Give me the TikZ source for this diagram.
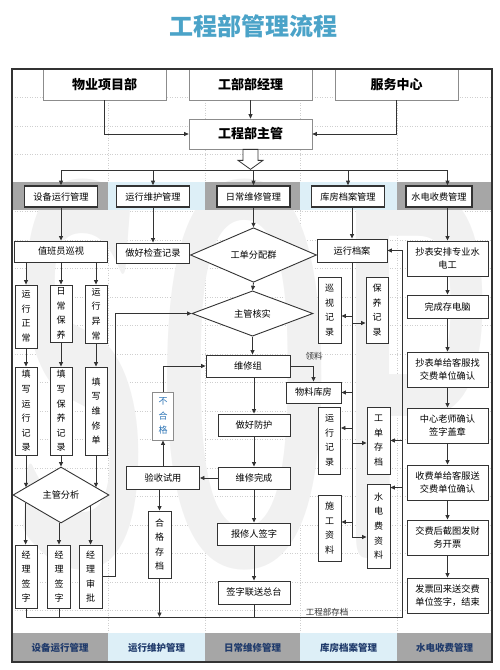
\documentclass[tikz,border=0pt]{standalone}
\usepackage{fontspec}
\setmainfont{Noto Sans CJK SC}
\usepackage{tikz}
\usetikzlibrary{calc,arrows.meta,shapes.geometric}
\definecolor{ink}{HTML}{333333}
\definecolor{rim}{HTML}{8C8C8C}
\definecolor{ttl}{HTML}{4BA3C8}
\definecolor{bandgray}{HTML}{A6A6A6}
\definecolor{bandblue}{HTML}{DDEFF7}
\definecolor{navy}{HTML}{1F3A6B}
\definecolor{gridc}{HTML}{CFCFCF}
\definecolor{wmk}{HTML}{F1F1F1}
\definecolor{failc}{HTML}{2E75B6}
\tikzset{
  wire/.style={draw=ink, line width=0.8pt},
  arr/.style={wire, -{Triangle[length=4.5pt,width=4pt]}},
  gridline/.style={draw=gridc, dotted, line width=0.5pt},
  box/.style={draw=ink, fill=white, line width=0.9pt, inner sep=0pt, align=center, font=\fontsize{9.2}{13}\selectfont},
  vbox/.style={box, minimum width=22pt, font=\fontsize{9}{14.6}\selectfont},
  hdbox/.style={draw=rim, fill=white, line width=0.7pt, inner sep=0pt, minimum width=123pt, font=\fontsize{13}{15}\selectfont\bfseries},
  unitbox/.style={box, line width=1.6pt, minimum width=73pt, minimum height=21pt},
  diabox/.style={diamond, draw=ink, fill=white, line width=0.9pt, inner sep=0pt, font=\fontsize{9.2}{13}\selectfont},
  hollow/.style={draw=ink, fill=white, line width=0.8pt, line join=miter},
  lanetext/.style={font=\fontsize{9.5}{12}\selectfont\bfseries, text=navy},
  smalltext/.style={font=\fontsize{8.5}{10}\selectfont, text=ink},
  wmark/.style={text=wmk, font=\sffamily\bfseries, xscale=23, yscale=53, inner sep=0pt},
}
\begin{document}
\begin{tikzpicture}[x=1pt,y=-1pt]
  \useasboundingbox (0,0) rectangle (500,670);
  % grid and watermark
  \foreach \y in {0,...,19}
    \draw[gridline] (12,97.5+28.5*\y) -- (492,97.5+28.5*\y);
  \foreach \x in {108,205,300,397}
    \draw[gridline] (\x,97.5) -- (\x,633);
  \node[wmark] (sop) at (255,375) {SOP};
  \foreach \xa/\xb/\c in {12/108/bandgray,108/205/bandblue,205/300/bandgray,300/397/bandblue,397/492/bandgray}{
    \fill[\c] (\xa,182) rectangle (\xb,210);
    \fill[\c] (\xa,633) rectangle (\xb,662);
  }
  \node[font=\fontsize{24}{28}\selectfont\bfseries, text=ttl] (tt) at (253,26) {工程部管理流程};

  % top
  \node[hdbox, minimum height=31pt] (xm) at (104.5,84.5) {物业项目部};
  \node[hdbox, minimum height=31pt] (jl) at (250.5,84.5) {工部部经理};
  \node[hdbox, minimum height=31pt] (fw) at (396.5,84.5) {服务中心};
  \node[hdbox, minimum height=30pt] (zg) at (250.5,134) {工程部主管};
  \draw[arr] (jl.south) -- (zg.north);
  \draw[arr] (xm.south) |- (zg.west);
  \draw[arr] (fw.south) |- (zg.east);
  \draw[hollow] ($(zg.south)+(-7.5,0)$) -- ++(0,11) -- ++(-5,0) -- ($(zg.south)+(0,20)$)
    -- ($(zg.south)+(12.5,11)$) -- ++(-5,0) -- ++(0,-11) -- cycle;

  % units
  \node[unitbox] (u1) at (61,196.5) {设备运行管理};
  \node[unitbox] (u2) at (153,196.5) {运行维护管理};
  \node[unitbox] (u3) at (253.5,196.5) {日常维修管理};
  \node[unitbox] (u4) at (348,196.5) {库房档案管理};
  \node[unitbox, minimum width=66pt] (u5) at (439,196.5) {水电收费管理};

  % left column
  \node[box, minimum width=93pt, minimum height=21pt] (zb) at (61,251.5) {值班员巡视};
  \node[vbox, minimum height=63pt] (yz) at (26,316.5) {运\\行\\正\\常};
  \node[vbox, minimum height=57pt] (rb) at (61,313.5) {日\\常\\保\\养};
  \node[vbox, minimum height=58pt] (yy) at (96,314) {运\\行\\异\\常};
  \node[vbox, minimum height=88pt] (tx1) at (26,411) {填\\写\\运\\行\\记\\录};
  \node[vbox, minimum height=88pt] (tx2) at (61,411) {填\\写\\保\\养\\记\\录};
  \node[vbox, minimum height=88pt] (tx3) at (96,411) {填\\写\\维\\修\\单};
  \node[diabox, minimum width=96pt, minimum height=56pt] (fx) at (61,495) {主管分析};
  \node[vbox, minimum height=63pt] (jq1) at (26,576.5) {经\\理\\签\\字};
  \node[vbox, minimum width=23pt, minimum height=63pt] (jq2) at (59,576.5) {经\\理\\签\\字};
  \node[vbox, minimum width=23pt, minimum height=63pt] (jp) at (90.5,576.5) {经\\理\\审\\批};

  % centre column
  \node[box, minimum width=73pt, minimum height=20pt] (jc) at (153,253) {做好检查记录};
  \node[diabox, minimum width=126pt, minimum height=46pt] (gd) at (253.5,255) {工单分配群};
  \node[diabox, minimum width=121pt, minimum height=43pt] (hs) at (252.5,313.5) {主管核实};
  \node[box, minimum width=84pt, minimum height=22pt] (wx) at (248,366) {维修组};
  \node[box, minimum width=72pt, minimum height=22pt] (fh) at (254,425) {做好防护};
  \node[box, minimum width=72pt, minimum height=22pt] (wc) at (254,478) {维修完成};
  \node[box, minimum width=73pt, minimum height=22pt] (bx) at (254,534) {报修人签字};
  \node[box, minimum width=72pt, minimum height=23pt] (qz) at (254,592.5) {签字联送总台};
  \node[box, minimum width=73pt, minimum height=23pt] (ys) at (163,478) {验收试用};
  \node[vbox, draw=rim, text=failc, minimum width=21pt, minimum height=48pt] (bh) at (163,416) {不\\合\\格};
  \node[vbox, minimum width=23pt, minimum height=67pt] (hg) at (159.5,544.5) {合\\格\\存\\档};
  \node[box, minimum width=55pt, minimum height=21pt] (wl) at (313.5,392.5) {物料库房};
  \node[smalltext] (ll) at (314,356) {领料};

  % archive column
  \node[box, minimum width=70pt, minimum height=23pt] (yd) at (352,250.5) {运行档案};
  \node[vbox, minimum width=23pt, minimum height=66pt] (xs) at (329.5,310) {巡\\视\\记\\录};
  \node[vbox, minimum height=66pt] (by) at (377,310) {保\\养\\记\\录};
  \node[vbox, minimum height=67pt] (yl) at (329.5,440.5) {运\\行\\记\\录};
  \node[vbox, minimum width=23pt, minimum height=67pt] (gc) at (378.5,440.5) {工\\单\\存\\档};
  \node[vbox, minimum width=23pt, minimum height=66pt] (sg) at (329.5,528) {施\\工\\资\\料};
  \node[vbox, minimum width=23pt, minimum height=84pt] (sd) at (378.5,526) {水\\电\\费\\资\\料};

  % fee column
  \node[box, minimum width=81pt, minimum height=35pt] (cf1) at (447.5,258.5) {抄表安排专业水\\电工};
  \node[box, minimum width=81pt, minimum height=23pt] (cf2) at (447.5,306.5) {完成存电脑};
  \node[box, minimum width=81pt, minimum height=35pt] (cf3) at (447.5,369.5) {抄表单给客服找\\交费单位确认};
  \node[box, minimum width=81pt, minimum height=35pt] (cf4) at (447.5,425.5) {中心老师确认\\签字盖章};
  \node[box, minimum width=81pt, minimum height=35pt] (cf5) at (447.5,482.5) {收费单给客服送\\交费单位确认};
  \node[box, minimum width=81pt, minimum height=35pt] (cf6) at (447.5,537.5) {交费后截图发财\\务开票};
  \node[box, minimum width=81pt, minimum height=35pt] (cf7) at (447.5,595.5) {发票回来送交费\\单位签字，结束};

  % distribution
  \coordinate (bus) at (253,170);
  \draw[wire] (u1.north |- bus) -- (cf1.north |- bus);
  \foreach \u in {u1,u2,u3,u4}
    \draw[arr] (\u.north |- bus) -- (\u.north);
  \draw[arr] (cf1.north |- bus) -- (cf1.north |- u5.north);
  \draw[arr] (u1.south) -- (zb.north);
  \draw[arr] (u2.south) -- (jc.north);
  \draw[arr] (u3.south) -- (gd.north);
  \draw[arr] (yd.north |- u4.south) -- (yd.north);
  \draw[arr] (cf1.north |- u5.south) -- (cf1.north);

  % left flow
  \foreach \b/\c in {yz/tx1,rb/tx2,yy/tx3}{
    \draw[arr] (\b.north |- zb.south) -- (\b.north);
    \draw[arr] (\b.south) -- (\c.north);
  }
  \coordinate (fxa) at ($(fx.west)!.27!(fx.north)$);
  \coordinate (fxb) at ($(fx.north)!.73!(fx.east)$);
  \coordinate (fxc) at ($(fx.west)!.27!(fx.south)$);
  \coordinate (fxd) at ($(fx.south)!.61!(fx.east)$);
  \draw[arr] (tx1.south) -- (tx1.south |- fxa);
  \draw[arr] (tx2.south) -- (fx.north);
  \draw[arr] (tx3.south) -- (tx3.south |- fxb);
  \draw[arr] (fxc) -- (fxc |- jq1.north);
  \draw[arr] (jq2.north |- fx.south) -- (jq2.north);
  \draw[arr] (fxd) -- (fxd |- jp.north);
  \draw[arr] (jp.east) -- ++(12.5,0) |- (hs.west);

  % repair flow
  \draw[arr] (gd.south) -- (hs.north);
  \draw[arr] (hs.south) -- (hs.south |- wx.north);
  \draw[arr] (fh.north |- wx.south) -- (fh.north);
  \draw[arr] (fh.south) -- (wc.north);
  \draw[arr] (wc.south) -- (bx.north);
  \draw[arr] (bx.south) -- (qz.north);
  \draw[arr] (wc.west) -- (ys.east);
  \draw[arr] (ys.north) -- (bh.south);
  \draw[arr] (bh.north) |- (wx.west);
  \draw[arr] (hg.north |- ys.south) -- (hg.north);
  \draw[arr] (wx.east) -| (wl.north);

  % archive
  \coordinate (ma) at (yd.south);
  \coordinate (sdb) at ($(sd.west)+(0,11)$);
  \draw[arr] (yd.south) -- (ma |- sdb) -- (sdb);
  \draw[arr] (ma |- 0,316) -- (xs.east |- 0,316);
  \draw[arr] (ma |- 0,323) -- (by.west |- 0,323);
  \draw[arr] (ma |- wl.east) -- (wl.east);
  \draw[arr] (ma |- 0,428) -- (yl.east |- 0,428);
  \draw[arr] (ma |- 0,443) -- (gc.west |- 0,443);
  \draw[arr] (ma |- 0,522) -- (sg.east |- 0,522);

  \coordinate (ar) at (402,617);
  \draw[arr] (jq1.south) -- (jq1.south |- ar) -- (ar) |- (yd.east);
  \draw[wire] (jq2.south) -- (jq2.south |- ar);
  \draw[arr] (hg.south) -- (hg.south |- ar);
  \draw[wire] (qz.south) -- (qz.south |- ar);
  \draw[arr] (ar |- gc.east) -- (gc.east);
  \coordinate (sdt) at ($(sd.north east)+(0,4)$);
  \draw[arr] (ar |- sdt) -- (sdt);
  \node[smalltext, anchor=south, inner sep=1pt] (ac) at (327,617) {工程部存档};

  \foreach \a/\b in {cf1/cf2,cf2/cf3,cf3/cf4,cf4/cf5,cf5/cf6,cf6/cf7}
    \draw[arr] (\a.south) -- (\b.north);

  % bottom lanes
  \foreach \n/\x/\t in {l1/60/设备运行管理,l2/156.5/运行维护管理,l3/252.5/日常维修管理,l4/348.5/库房档案管理,l5/444.5/水电收费管理}
    \node[lanetext] (\n) at (\x,647.5) {\t};

  \draw[draw=ink, line width=1.2pt] (12,69) rectangle (492,662);
\end{tikzpicture}
\end{document}
